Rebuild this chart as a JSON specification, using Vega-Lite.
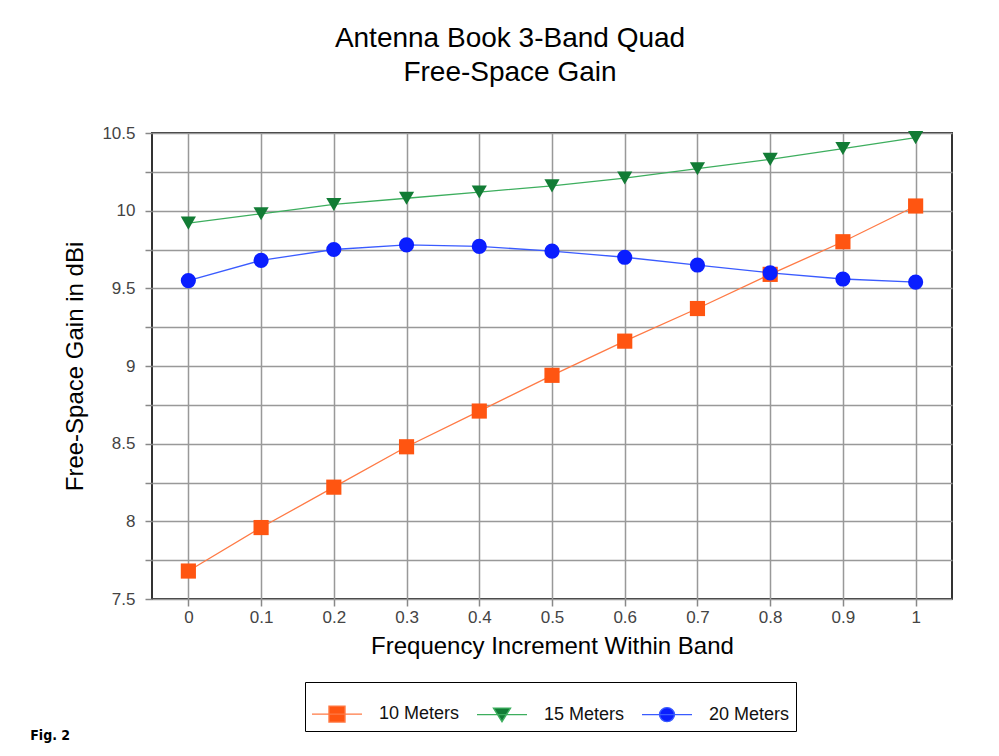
{
  "$schema": "https://vega.github.io/schema/vega-lite/v6.json",
  "autosize": "none",
  "width": 800,
  "height": 466,
  "padding": {"left": 152, "top": 133, "right": 47, "bottom": 157},
  "background": "white",
  "title": {
    "text": ["Antenna Book 3-Band Quad", "Free-Space Gain"],
    "font": "Liberation Sans",
    "fontSize": 28,
    "fontWeight": "normal",
    "color": "#000",
    "anchor": "middle",
    "frame": "group",
    "dx": -42,
    "lineHeight": 34,
    "offset": 37
  },
  "config": {
    "view": {"stroke": "#333", "strokeWidth": 2},
    "font": "Liberation Sans",
    "axis": {
      "labelFont": "Liberation Sans",
      "labelFontSize": 17,
      "labelColor": "#444",
      "titleFont": "Liberation Sans",
      "titleFontSize": 24,
      "titleFontWeight": "normal",
      "titleColor": "#000",
      "gridColor": "#999",
      "gridWidth": 1.5,
      "gridOpacity": 1,
      "tickColor": "#888",
      "tickWidth": 1.5,
      "tickSize": 7,
      "domain": false
    },
    "legend": {
      "title": null,
      "orient": "none",
      "direction": "horizontal",
      "legendX": 153,
      "legendY": 549,
      "strokeColor": "#000",
      "fillColor": "white",
      "padding": 6,
      "labelFont": "Liberation Sans",
      "labelFontSize": 18,
      "labelColor": "#111",
      "labelOffset": 16,
      "columnPadding": 14,
      "symbolSize": 2500,
      "symbolStrokeWidth": 1.4,
      "symbolOpacity": 1
    }
  },
  "data": {
    "values": [
      {"x": 0.0, "band": "10 Meters", "gain": 7.68},
      {"x": 0.1, "band": "10 Meters", "gain": 7.96},
      {"x": 0.2, "band": "10 Meters", "gain": 8.22},
      {"x": 0.3, "band": "10 Meters", "gain": 8.48},
      {"x": 0.4, "band": "10 Meters", "gain": 8.71},
      {"x": 0.5, "band": "10 Meters", "gain": 8.94},
      {"x": 0.6, "band": "10 Meters", "gain": 9.16},
      {"x": 0.7, "band": "10 Meters", "gain": 9.37},
      {"x": 0.8, "band": "10 Meters", "gain": 9.59},
      {"x": 0.9, "band": "10 Meters", "gain": 9.80},
      {"x": 1.0, "band": "10 Meters", "gain": 10.03},
      {"x": 0.0, "band": "15 Meters", "gain": 9.92},
      {"x": 0.1, "band": "15 Meters", "gain": 9.98},
      {"x": 0.2, "band": "15 Meters", "gain": 10.04},
      {"x": 0.3, "band": "15 Meters", "gain": 10.08},
      {"x": 0.4, "band": "15 Meters", "gain": 10.12},
      {"x": 0.5, "band": "15 Meters", "gain": 10.16},
      {"x": 0.6, "band": "15 Meters", "gain": 10.21},
      {"x": 0.7, "band": "15 Meters", "gain": 10.27},
      {"x": 0.8, "band": "15 Meters", "gain": 10.33},
      {"x": 0.9, "band": "15 Meters", "gain": 10.40},
      {"x": 1.0, "band": "15 Meters", "gain": 10.47},
      {"x": 0.0, "band": "20 Meters", "gain": 9.55},
      {"x": 0.1, "band": "20 Meters", "gain": 9.68},
      {"x": 0.2, "band": "20 Meters", "gain": 9.75},
      {"x": 0.3, "band": "20 Meters", "gain": 9.78},
      {"x": 0.4, "band": "20 Meters", "gain": 9.77},
      {"x": 0.5, "band": "20 Meters", "gain": 9.74},
      {"x": 0.6, "band": "20 Meters", "gain": 9.70},
      {"x": 0.7, "band": "20 Meters", "gain": 9.65},
      {"x": 0.8, "band": "20 Meters", "gain": 9.60},
      {"x": 0.9, "band": "20 Meters", "gain": 9.56},
      {"x": 1.0, "band": "20 Meters", "gain": 9.54}
    ]
  },
  "encoding": {
    "x": {
      "field": "x",
      "type": "quantitative",
      "scale": {"domain": [-0.05, 1.05], "nice": false, "zero": false},
      "axis": {
        "title": "Frequency Increment Within Band",
        "values": [0, 0.1, 0.2, 0.3, 0.4, 0.5, 0.6, 0.7, 0.8, 0.9, 1],
        "format": "~g",
        "labelPadding": 3,
        "titlePadding": 9
      }
    },
    "y": {
      "field": "gain",
      "type": "quantitative",
      "scale": {"domain": [7.5, 10.5], "nice": false, "zero": false},
      "axis": {
        "title": "Free-Space Gain in dBi",
        "values": [7.5, 7.75, 8, 8.25, 8.5, 8.75, 9, 9.25, 9.5, 9.75, 10, 10.25, 10.5],
        "labelExpr": "datum.value % 0.5 === 0 ? format(datum.value, '~g') : ''",
        "labelPadding": 10,
        "titlePadding": 14
      }
    }
  },
  "layer": [
    {
      "mark": {"type": "line", "strokeWidth": 1.3},
      "encoding": {
        "color": {
          "field": "band",
          "type": "nominal",
          "scale": {"domain": ["10 Meters", "15 Meters", "20 Meters"], "range": ["#FF7A45", "#3DAE5E", "#3A5BFF"]},
          "legend": null
        }
      }
    },
    {
      "mark": {"type": "point", "filled": true, "opacity": 1},
      "encoding": {
        "color": {
          "field": "band",
          "type": "nominal",
          "scale": {"domain": ["10 Meters", "15 Meters", "20 Meters"], "range": ["#FF5511", "#127C35", "#0A1EFF"]},
          "legend": null
        },
        "shape": {
          "field": "band",
          "type": "nominal",
          "scale": {"domain": ["10 Meters", "15 Meters", "20 Meters"], "range": ["square", "triangle-down", "circle"]},
          "legend": null
        },
        "size": {"value": 230}
      }
    },
    {
      "transform": [{"filter": "false"}],
      "mark": {"type": "point", "filled": true, "opacity": 1, "strokeWidth": 1.4},
      "encoding": {
        "fill": {
          "field": "band",
          "type": "nominal",
          "scale": {"domain": ["10 Meters", "15 Meters", "20 Meters"], "range": ["#FF5511", "#127C35", "#0A1EFF"]}
        },
        "stroke": {
          "field": "band",
          "type": "nominal",
          "scale": {"domain": ["10 Meters", "15 Meters", "20 Meters"], "range": ["#FF7A45", "#3DAE5E", "#3A5BFF"]}
        },
        "shape": {
          "field": "band",
          "type": "nominal",
          "scale": {"domain": ["10 Meters", "15 Meters", "20 Meters"], "range": ["M-1,0H1M-0.32,-0.32H0.32V0.32H-0.32Z", "M-1,0H1M-0.34,-0.26H0.34L0,0.28Z", "M-1,0H1M0.3,0A0.3,0.28 0 1,1 -0.3,0A0.3,0.28 0 1,1 0.3,0Z"]}
        }
      }
    },
    {
      "data": {"values": [{"label": "Fig. 2", "lx": -0.19, "ly": 6.62}]},
      "mark": {"type": "text", "font": "DejaVu Sans Condensed, DejaVu Sans", "fontWeight": "bold", "fontSize": 14, "align": "center", "baseline": "middle", "color": "#000"},
      "encoding": {
        "x": {"field": "lx", "type": "quantitative"},
        "y": {"field": "ly", "type": "quantitative"},
        "text": {"field": "label", "type": "nominal"}
      }
    }
  ],
  "resolve": {"scale": {"color": "independent", "shape": "independent", "fill": "independent", "stroke": "independent"}}
}
